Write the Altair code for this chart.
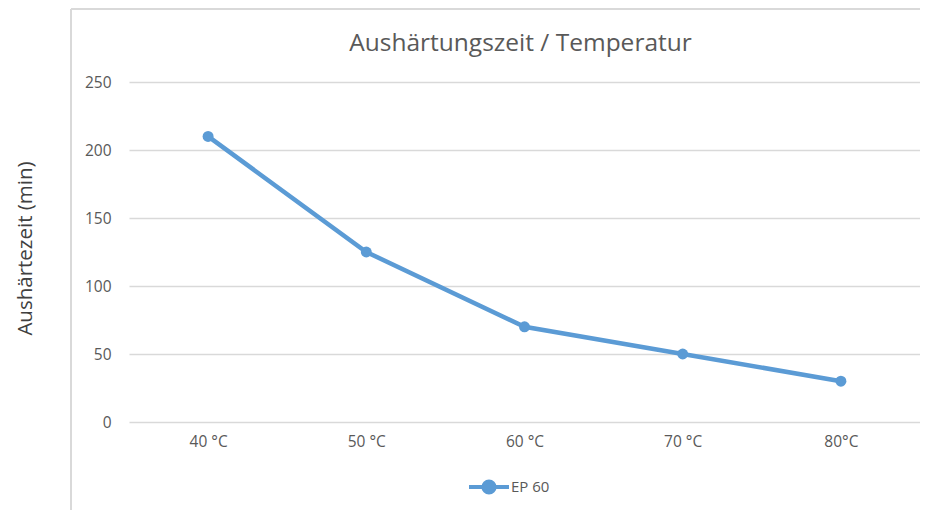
import altair as alt
import pandas as pd

categories = ["40 °C", "50 °C", "60 °C", "70 °C", "80°C"]
values = [210, 125, 70, 50, 30]
series = ["EP 60"] * 5

df = pd.DataFrame({"temp": categories, "zeit": values, "serie": series})

font = "Open Sans"
grey = "#595959"
blue = "#5b9bd5"

base = alt.Chart(df)

line = base.mark_line(strokeWidth=4.5, color=blue, point=alt.OverlayMarkDef(size=120, filled=True, color=blue, opacity=1)).encode(
    x=alt.X("temp:N", sort=categories, title=None,
            scale=alt.Scale(paddingInner=0, paddingOuter=0.5),
            axis=alt.Axis(labelAngle=0, domain=False, ticks=False, labelPadding=12,
                          labelFontSize=15.5, labelColor=grey, labelFont=font)),
    y=alt.Y("zeit:Q", title="Aushärtezeit (min)",
            scale=alt.Scale(domain=[0, 250]),
            axis=alt.Axis(values=[0, 50, 100, 150, 200, 250], domain=False, ticks=False,
                          labelPadding=18, labelFontSize=15.5, labelColor=grey, labelFont=font,
                          gridColor="#d9d9d9", gridWidth=1.5,
                          titleFont=font, titleFontSize=20.5, titleFontWeight="normal",
                          titleColor="#404040", titleX=-104, titleY=166, titleAngle=-90,
                          titleBaseline="middle", titleAlign="center")),
    color=alt.Color("serie:N", scale=alt.Scale(range=[blue]),
                    legend=alt.Legend(title=None, orient="none", legendX=338, legendY=383,
                                      symbolType="M-1,0H1M0.28,0A0.28,0.28 0 1,1 -0.28,0A0.28,0.28 0 1,1 0.28,0Z",
                                      symbolSize=1600, symbolStrokeWidth=4, symbolFillColor=blue,
                                      symbolStrokeColor=blue, labelFont=font, labelFontSize=15,
                                      labelColor=grey, labelOffset=0)),
)

# chart border (left and top edges of the Excel chart area)
border_left = base.mark_rule(color="#d9d9d9", strokeWidth=1.5, clip=False).encode(
    x=alt.value(-58), y=alt.value(-73), y2=alt.value(430))
border_top = base.mark_rule(color="#d9d9d9", strokeWidth=1.5, clip=False).encode(
    x=alt.value(-58), x2=alt.value(792), y=alt.value(-73))

chart = alt.layer(border_left, border_top, line).properties(
    width=791, height=340,
    autosize=alt.AutoSizeParams(type="none"),
    padding={"left": 121, "top": 74, "right": 0, "bottom": 92},
    title=alt.TitleParams("Aushärtungszeit / Temperatur", font=font, fontSize=24.5,
                          fontWeight="normal", color=grey, anchor="middle", frame="group",
                          baseline="alphabetic", offset=0, dy=67, dx=-4),
).configure_view(stroke=None).configure_axis(grid=True).configure_axisX(grid=False)

chart.save("out.html", embed_options={"renderer": "svg", "actions": False})
